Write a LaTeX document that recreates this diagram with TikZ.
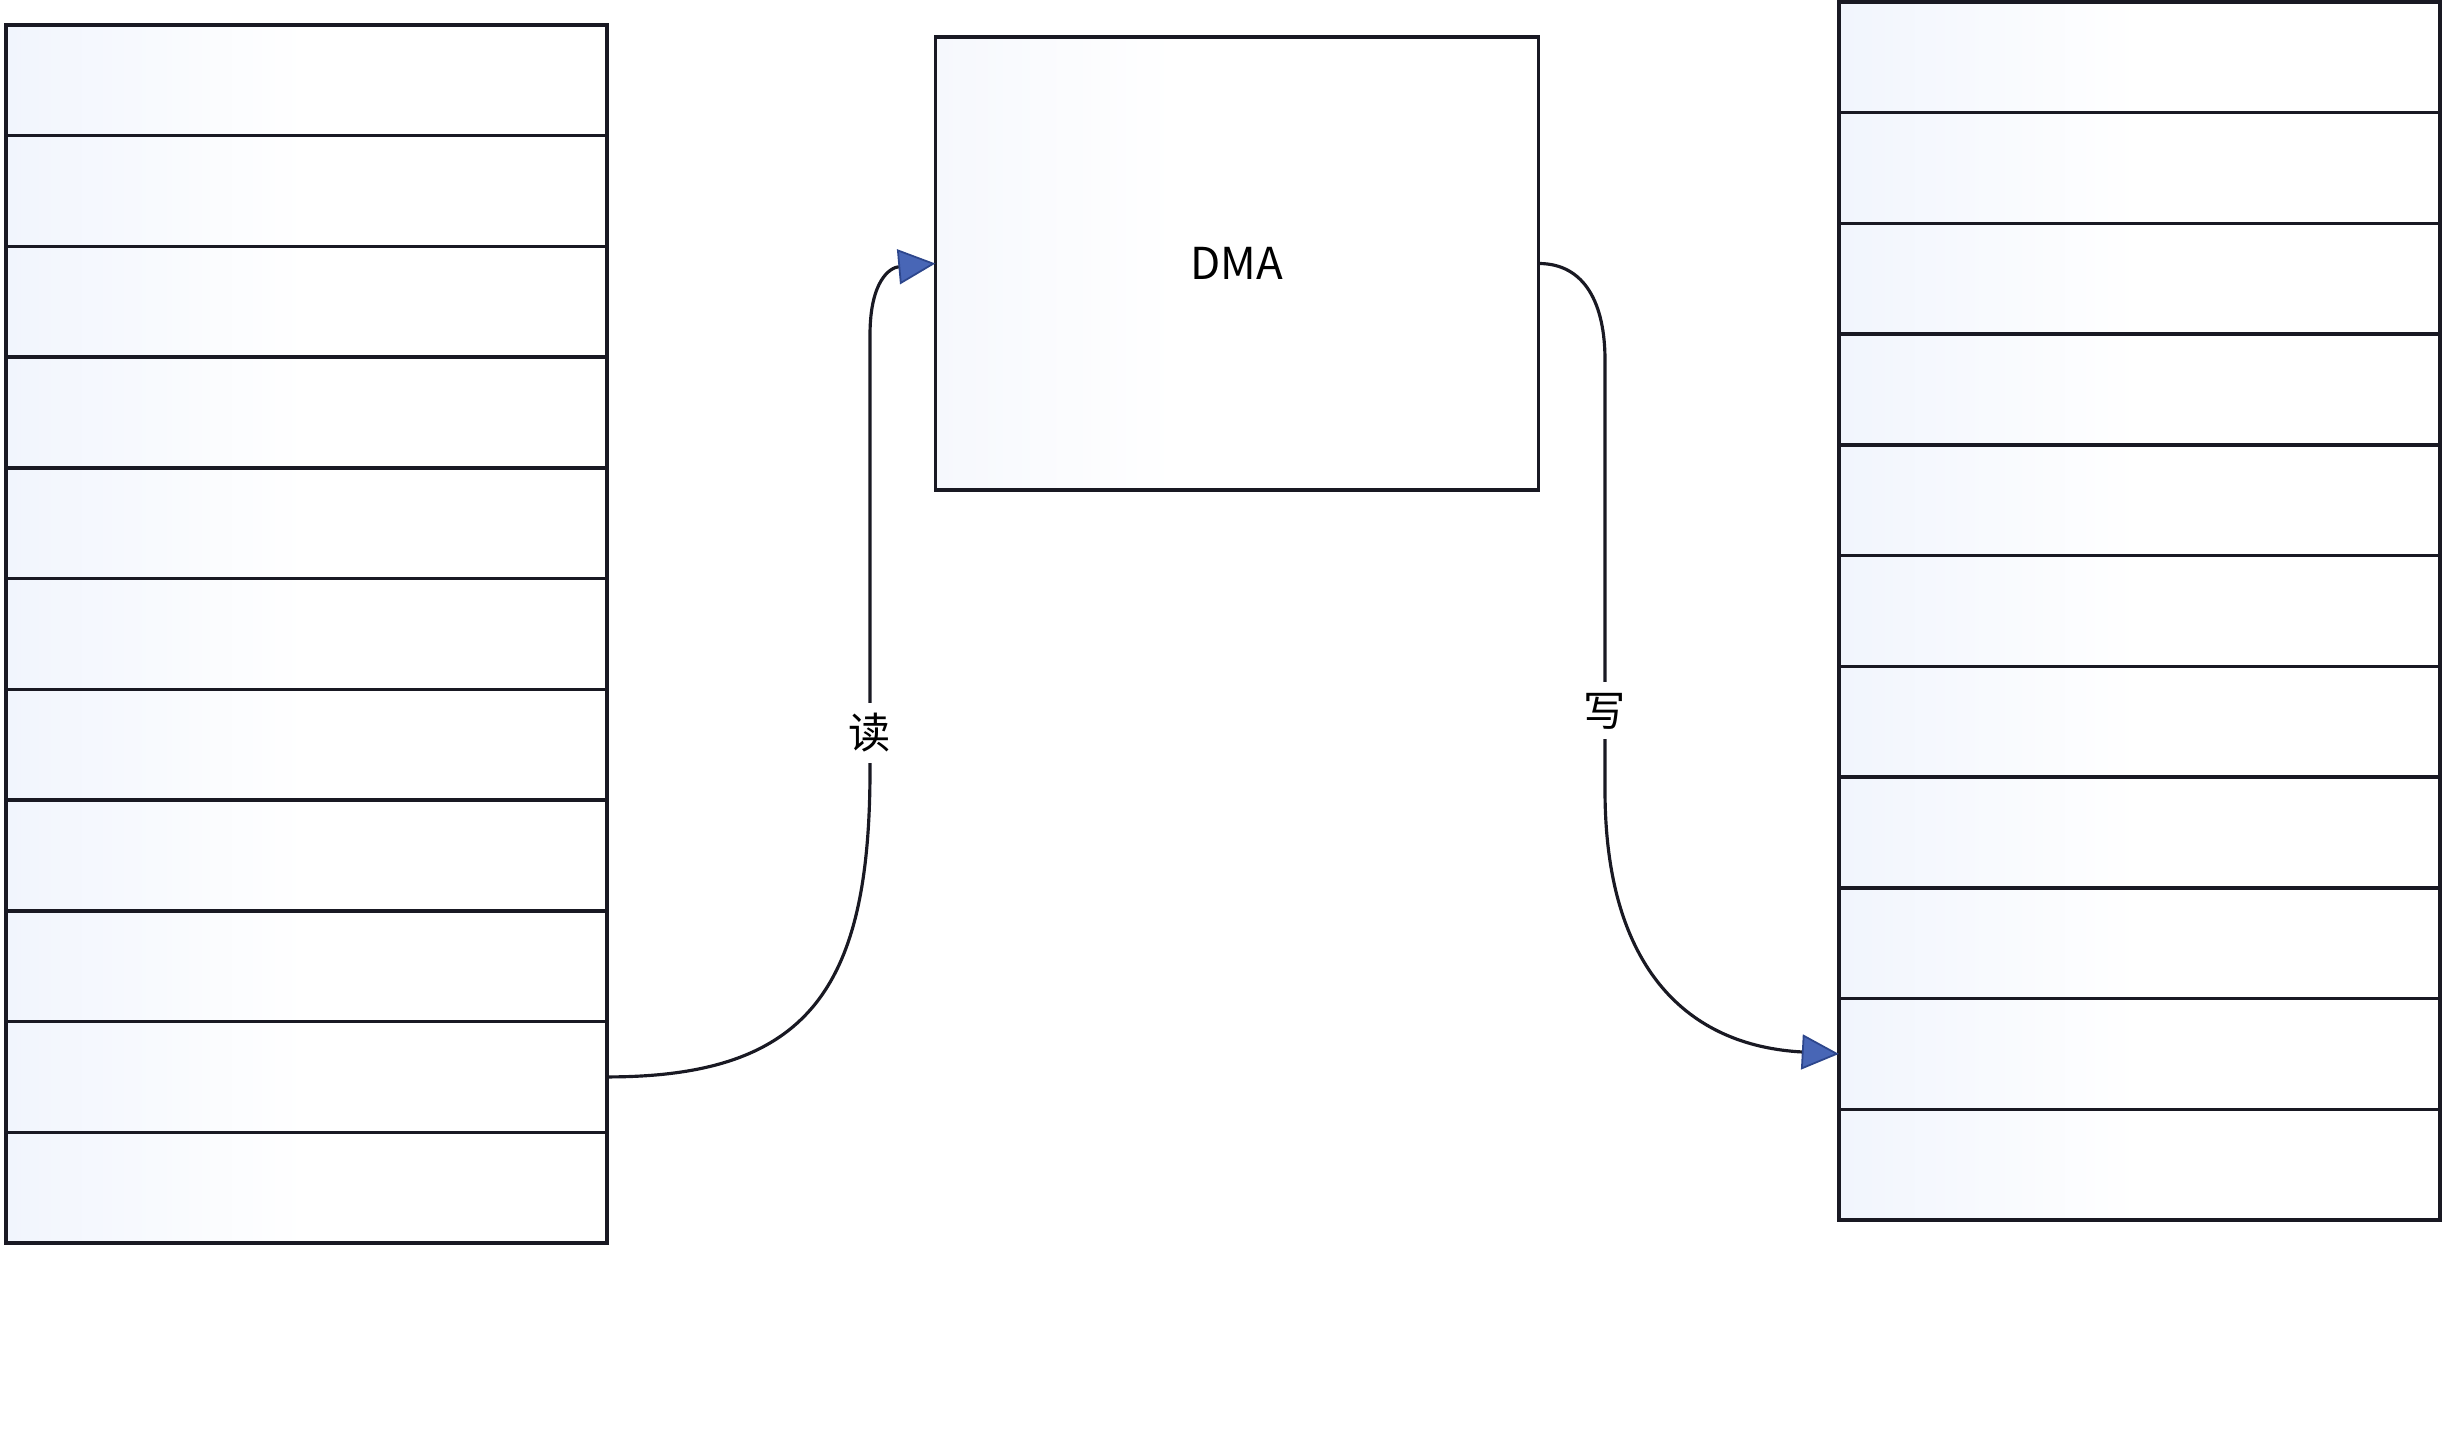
\documentclass[tikz,border=0pt]{standalone}
\usepackage{fontspec}
\setmainfont{Noto Sans CJK SC}
\usetikzlibrary{arrows.meta}
\definecolor{edge}{RGB}{25,25,35}
\definecolor{tint}{RGB}{241,245,253}
\definecolor{tintb}{RGB}{246,248,253}
\definecolor{tipfill}{RGB}{72,102,182}
\definecolor{tipdraw}{RGB}{45,70,140}
\pgfdeclarehorizontalshading{cellshade}{100bp}{color(0bp)=(tint); color(25bp)=(tint); color(50bp)=(white); color(100bp)=(white)}
\pgfdeclarehorizontalshading{boxshade}{100bp}{color(0bp)=(tintb); color(25bp)=(tintb); color(45bp)=(white); color(100bp)=(white)}
\begin{document}
\begin{tikzpicture}[x=0.01cm,y=-0.01cm,
  cell/.style={draw=edge, line width=1pt, shading=cellshade, inner sep=0pt, outer sep=0pt,
    minimum width=6.01cm, minimum height=1.1073cm},
  box/.style={draw=edge, line width=1pt, shading=boxshade, inner sep=0pt, outer sep=0pt,
    minimum width=6.03cm, minimum height=4.53cm, font=\fontsize{12.5}{15}\selectfont},
  conn/.style={draw=edge, line width=0.9pt,
    -{Triangle[length=3.7mm,width=3.5mm,fill=tipfill,color=tipdraw,line width=0.5pt]}},
  lbl/.style={fill=white, inner sep=3pt, font=\fontsize{12}{14}\selectfont}]
\useasboundingbox (0,0) rectangle (2448,1440);
\fill[white] (0,0) rectangle (2448,1440);
\foreach \i in {1,...,11}{
  \node[cell] (L\i) at (306.5, {25+110.73*(\i-0.5)}) {};
  \node[cell] (R\i) at (2139.5, {2+110.73*(\i-0.5)}) {};
}
\node[box] (dma) at (1237,263.5) {DMA};
\coordinate (a1) at (870,770);
\coordinate (a2) at (870,335);
\coordinate (b1) at (1605,360);
\coordinate (b2) at (1605,790);
\draw[conn] (L10.east) .. controls +(200,0) and +(0,220) .. (a1)
  -- node[lbl, pos=0.085] {读} (a2)
  .. controls +(0,-55) and +(-45,4) .. (dma.west);
\draw[conn] (dma.east) .. controls +(47,0) and +(0,-55) .. (b1)
  -- node[lbl, pos=0.816] {写} (b2)
  .. controls +(0,180) and +(-150,-8) .. (R10.west);
\end{tikzpicture}
\end{document}
